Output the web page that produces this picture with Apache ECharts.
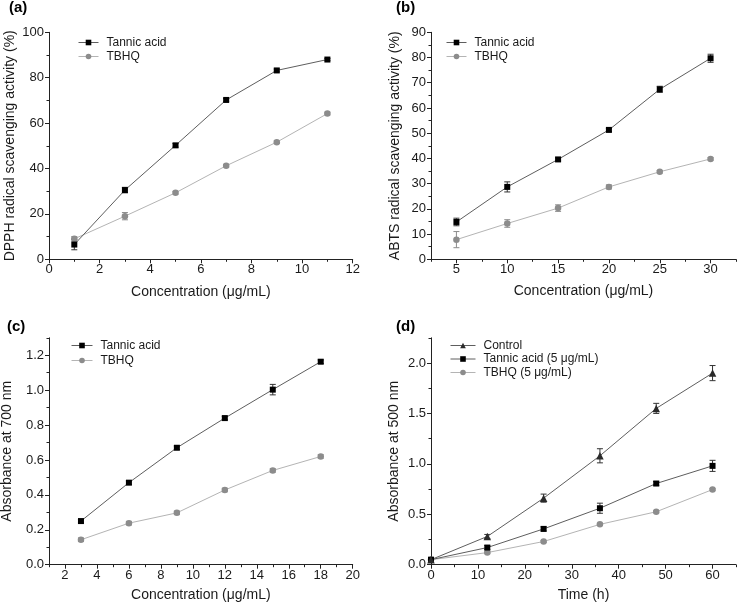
<!DOCTYPE html>
<html>
<head>
<meta charset="utf-8">
<script src="https://cdn.jsdelivr.net/npm/echarts@6/dist/echarts.min.js"></script>
<style>
html,body{margin:0;padding:0;background:#fff;}
#chart{width:738px;height:606px;}
</style>
</head>
<body>
<div id="chart"></div>
<script>
// ---------- Data ----------
// (a) DPPH
const concA = [1, 3, 5, 7, 9, 11];
const dpphTannic = [6.5, 30.5, 50.2, 70.2, 83.2, 88.0];
const dpphTannicErr = [2.3, 1.2, 0.8, 0.6, 0.6, 0.5];
const dpphTBHQ = [9.0, 19.0, 29.3, 41.2, 51.6, 64.2];
const dpphTBHQErr = [1.0, 1.6, 0.6, 0.6, 0.6, 0.6];
// (b) ABTS
const concB = [5, 10, 15, 20, 25, 30];
const abtsTannic = [14.8, 28.7, 39.6, 51.3, 67.4, 79.7];
const abtsTannicErr = [1.5, 2.0, 0.6, 0.6, 1.2, 1.6];
const abtsTBHQ = [7.8, 14.2, 20.3, 28.7, 34.7, 39.8];
const abtsTBHQErr = [3.2, 1.5, 1.3, 0.8, 0.5, 0.5];
// (c) Absorbance at 700 nm
const concC = [3, 6, 9, 12, 15, 18];
const abs700Tannic = [0.25, 0.47, 0.67, 0.84, 1.003, 1.163];
const abs700TannicErr = [0.01, 0.01, 0.01, 0.01, 0.03, 0.01];
const abs700TBHQ = [0.143, 0.238, 0.297, 0.428, 0.54, 0.62];
const abs700TBHQErr = [0.01, 0.01, 0.01, 0.01, 0.01, 0.01];
// (d) Absorbance at 500 nm vs time
const timeD = [0, 12, 24, 36, 48, 60];
const abs500Control = [0.05, 0.28, 0.66, 1.08, 1.55, 1.90];
const abs500ControlErr = [0.01, 0.02, 0.04, 0.07, 0.05, 0.075];
const abs500Tannic = [0.05, 0.17, 0.355, 0.56, 0.805, 0.98];
const abs500TannicErr = [0.01, 0.02, 0.02, 0.05, 0.02, 0.055];
const abs500TBHQ = [0.05, 0.12, 0.23, 0.40, 0.525, 0.745];
const abs500TBHQErr = [0.01, 0.01, 0.01, 0.01, 0.01, 0.01];

// tick values
const ticksAx = [0, 2, 4, 6, 8, 10, 12];
const minorAx = [1, 3, 5, 7, 9, 11];
const ticksAy = [0, 20, 40, 60, 80, 100];
const minorAy = [10, 30, 50, 70, 90];
const ticksBx = [5, 10, 15, 20, 25, 30];
const minorBx = [2.5, 7.5, 12.5, 17.5, 22.5, 27.5, 32.5];
const ticksBy = [0, 10, 20, 30, 40, 50, 60, 70, 80, 90];
const minorBy = [5, 15, 25, 35, 45, 55, 65, 75, 85];
const ticksCx = [2, 4, 6, 8, 10, 12, 14, 16, 18, 20];
const minorCx = [1, 3, 5, 7, 9, 11, 13, 15, 17, 19];
const ticksCy = [0, 0.2, 0.4, 0.6, 0.8, 1.0, 1.2];
const minorCy = [0.1, 0.3, 0.5, 0.7, 0.9, 1.1, 1.3];
const ticksDx = [0, 10, 20, 30, 40, 50, 60];
const minorDx = [5, 15, 25, 35, 45, 55, 65];
const ticksDy = [0, 0.5, 1.0, 1.5, 2.0];
const minorDy = [0.25, 0.75, 1.25, 1.75, 2.25];

// ---------- Styling helpers ----------
const FONT = 'Liberation Sans, Arial, Helvetica, sans-serif';
const TXT = '#1a1a1a';
const AX = '#222';

const grids = [
  {left: 49, top: 32.3, right: 385.3, bottom: 346.7},
  {left: 431, top: 32.3, right: 2, bottom: 346.7},
  {left: 49, top: 337.8, right: 385.3, bottom: 41.3},
  {left: 431, top: 337.8, right: 2, bottom: 41.3}
];

function mainAxis(dim, gi, min, max, majors, fmt, name, nameGap) {
  return {
    type: 'value', gridIndex: gi, min: min, max: max,
    position: dim === 'x' ? 'bottom' : 'left',
    splitLine: {show: false},
    axisLine: {show: true, onZero: false, lineStyle: {color: AX, width: 1}},
    axisTick: {show: true, inside: false, length: 4, customValues: majors, lineStyle: {color: AX, width: 1}},
    axisLabel: {show: true, customValues: majors, margin: dim === 'x' ? 4 : 5,
      color: TXT, fontSize: 13, fontFamily: FONT, formatter: fmt,
      showMinLabel: true, showMaxLabel: true},
    name: name, nameLocation: 'middle', nameGap: nameGap,
    nameTextStyle: {color: TXT, fontSize: 14, fontFamily: FONT}
  };
}
function minorAxis(dim, gi, min, max, minors) {
  return {
    type: 'value', gridIndex: gi, min: min, max: max,
    position: dim === 'x' ? 'bottom' : 'left',
    splitLine: {show: false},
    axisLine: {show: false, onZero: false},
    axisTick: {show: true, inside: false, length: 2.5, customValues: minors, lineStyle: {color: AX, width: 1}},
    axisLabel: {show: false}
  };
}
const f0 = v => String(v);
const f1 = v => Number(v).toFixed(1);

function lineSeries(name, gi, xs, ys, symbol, size, markerColor, lineColor) {
  return {
    type: 'line', name: name, xAxisIndex: gi, yAxisIndex: gi,
    data: xs.map((x, i) => [x, ys[i]]),
    symbol: symbol, symbolSize: size, showSymbol: true,
    itemStyle: {color: markerColor, borderWidth: 0},
    lineStyle: {color: lineColor, width: 1},
    z: 3, animation: false, silent: true
  };
}
function errSeries(gi, xs, ys, es, color) {
  return {
    type: 'custom', xAxisIndex: gi, yAxisIndex: gi, silent: true, z: 2, animation: false,
    data: xs.map((x, i) => [x, ys[i], es[i]]),
    encode: {x: 0, y: 1},
    renderItem: function (params, api) {
      const x = api.value(0), y = api.value(1), e = api.value(2);
      const t = api.coord([x, y + e]);
      const b = api.coord([x, y - e]);
      const w = 3;
      const st = {stroke: color, lineWidth: 1, fill: null};
      return {type: 'group', children: [
        {type: 'line', shape: {x1: t[0], y1: t[1], x2: b[0], y2: b[1]}, style: st},
        {type: 'line', shape: {x1: t[0] - w, y1: t[1], x2: t[0] + w, y2: t[1]}, style: st},
        {type: 'line', shape: {x1: b[0] - w, y1: b[1], x2: b[0] + w, y2: b[1]}, style: st}
      ]};
    }
  };
}
function legend(left, top, names, itemWidth, gap) {
  return {
    show: true, orient: 'vertical', left: left, top: top, padding: 0,
    itemWidth: itemWidth, itemHeight: 7, itemGap: gap,
    data: names.map(n => ({name: n})),
    lineStyle: {width: 1},
    textStyle: {color: TXT, fontSize: 12, fontFamily: FONT, lineHeight: 13, padding: [0, 0, 0, 3]},
    selectedMode: false
  };
}
function panelTitle(text, left, top) {
  return {text: text, left: left, top: top, padding: 0,
    textStyle: {color: '#000', fontSize: 15, fontWeight: 'bold', fontFamily: FONT}};
}

const TANNIC_LINE = '#5e5e5e', TANNIC_MARK = '#000000';
const TBHQ_LINE = '#b4b4b4', TBHQ_MARK = '#8c8c8c';
const CTRL_LINE = '#5e5e5e', CTRL_MARK = '#2a2a2a';

const option = {
  animation: false,
  backgroundColor: '#ffffff',
  title: [
    panelTitle('(a)', 9, 0),
    panelTitle('(b)', 396, 0),
    panelTitle('(c)', 7, 319),
    panelTitle('(d)', 396, 319)
  ],
  grid: grids.concat(grids).map(g => Object.assign({containLabel: false, outerBoundsMode: 'none'}, g)),
  xAxis: [
    mainAxis('x', 0, 0, 12, ticksAx, f0, 'Concentration (\u03BCg/mL)', 26),
    mainAxis('x', 1, 2.5, 32.5, ticksBx, f0, 'Concentration (\u03BCg/mL)', 25),
    mainAxis('x', 2, 1, 20, ticksCx, f0, 'Concentration (\u03BCg/mL)', 23),
    mainAxis('x', 3, 0, 65, ticksDx, f0, 'Time (h)', 23),
    minorAxis('x', 4, 0, 12, minorAx),
    minorAxis('x', 5, 2.5, 32.5, minorBx),
    minorAxis('x', 6, 1, 20, minorCx),
    minorAxis('x', 7, 0, 65, minorDx)
  ],
  yAxis: [
    mainAxis('y', 0, 0, 100, ticksAy, f0, 'DPPH radical scavenging activity (%)', 32),
    mainAxis('y', 1, 0, 90, ticksBy, f0, 'ABTS radical scavenging activity (%)', 29),
    mainAxis('y', 2, 0, 1.3, ticksCy, f1, 'Absorbance at 700 nm', 35),
    mainAxis('y', 3, 0, 2.25, ticksDy, f1, 'Absorbance at 500 nm', 30),
    minorAxis('y', 4, 0, 100, minorAy),
    minorAxis('y', 5, 0, 90, minorBy),
    minorAxis('y', 6, 0, 1.3, minorCy),
    minorAxis('y', 7, 0, 2.25, minorDy)
  ],
  legend: [
    legend(78, 36, ['Tannic acid', 'TBHQ'], 20, 1),
    legend(446, 36, ['Tannic acid ', 'TBHQ '], 20, 1),
    legend(71, 339, ['Tannic acid  ', 'TBHQ  '], 21, 2),
    legend(450, 339, ['Control', 'Tannic acid (5 \u03BCg/mL)', 'TBHQ (5 \u03BCg/mL)'], 25, 0.5)
  ],
  series: [
    // (a)
    errSeries(0, concA, dpphTBHQ, dpphTBHQErr, TBHQ_MARK),
    errSeries(0, concA, dpphTannic, dpphTannicErr, '#333'),
    lineSeries('TBHQ', 0, concA, dpphTBHQ, 'circle', 6.5, TBHQ_MARK, TBHQ_LINE),
    lineSeries('Tannic acid', 0, concA, dpphTannic, 'rect', 6, TANNIC_MARK, TANNIC_LINE),
    // (b)
    errSeries(1, concB, abtsTBHQ, abtsTBHQErr, TBHQ_MARK),
    errSeries(1, concB, abtsTannic, abtsTannicErr, '#333'),
    lineSeries('TBHQ ', 1, concB, abtsTBHQ, 'circle', 6.5, TBHQ_MARK, TBHQ_LINE),
    lineSeries('Tannic acid ', 1, concB, abtsTannic, 'rect', 6, TANNIC_MARK, TANNIC_LINE),
    // (c)
    errSeries(2, concC, abs700TBHQ, abs700TBHQErr, TBHQ_MARK),
    errSeries(2, concC, abs700Tannic, abs700TannicErr, '#333'),
    lineSeries('TBHQ  ', 2, concC, abs700TBHQ, 'circle', 6.5, TBHQ_MARK, TBHQ_LINE),
    lineSeries('Tannic acid  ', 2, concC, abs700Tannic, 'rect', 6, TANNIC_MARK, TANNIC_LINE),
    // (d)
    errSeries(3, timeD, abs500TBHQ, abs500TBHQErr, TBHQ_MARK),
    errSeries(3, timeD, abs500Tannic, abs500TannicErr, '#333'),
    errSeries(3, timeD, abs500Control, abs500ControlErr, '#333'),
    lineSeries('TBHQ (5 \u03BCg/mL)', 3, timeD, abs500TBHQ, 'circle', 6.5, TBHQ_MARK, TBHQ_LINE),
    lineSeries('Tannic acid (5 \u03BCg/mL)', 3, timeD, abs500Tannic, 'rect', 6, TANNIC_MARK, TANNIC_LINE),
    lineSeries('Control', 3, timeD, abs500Control, 'triangle', 7.5, CTRL_MARK, CTRL_LINE)
  ]
};

const chart = echarts.init(document.getElementById('chart'), null, {renderer: 'canvas'});
chart.setOption(option);
</script>
</body>
</html>
